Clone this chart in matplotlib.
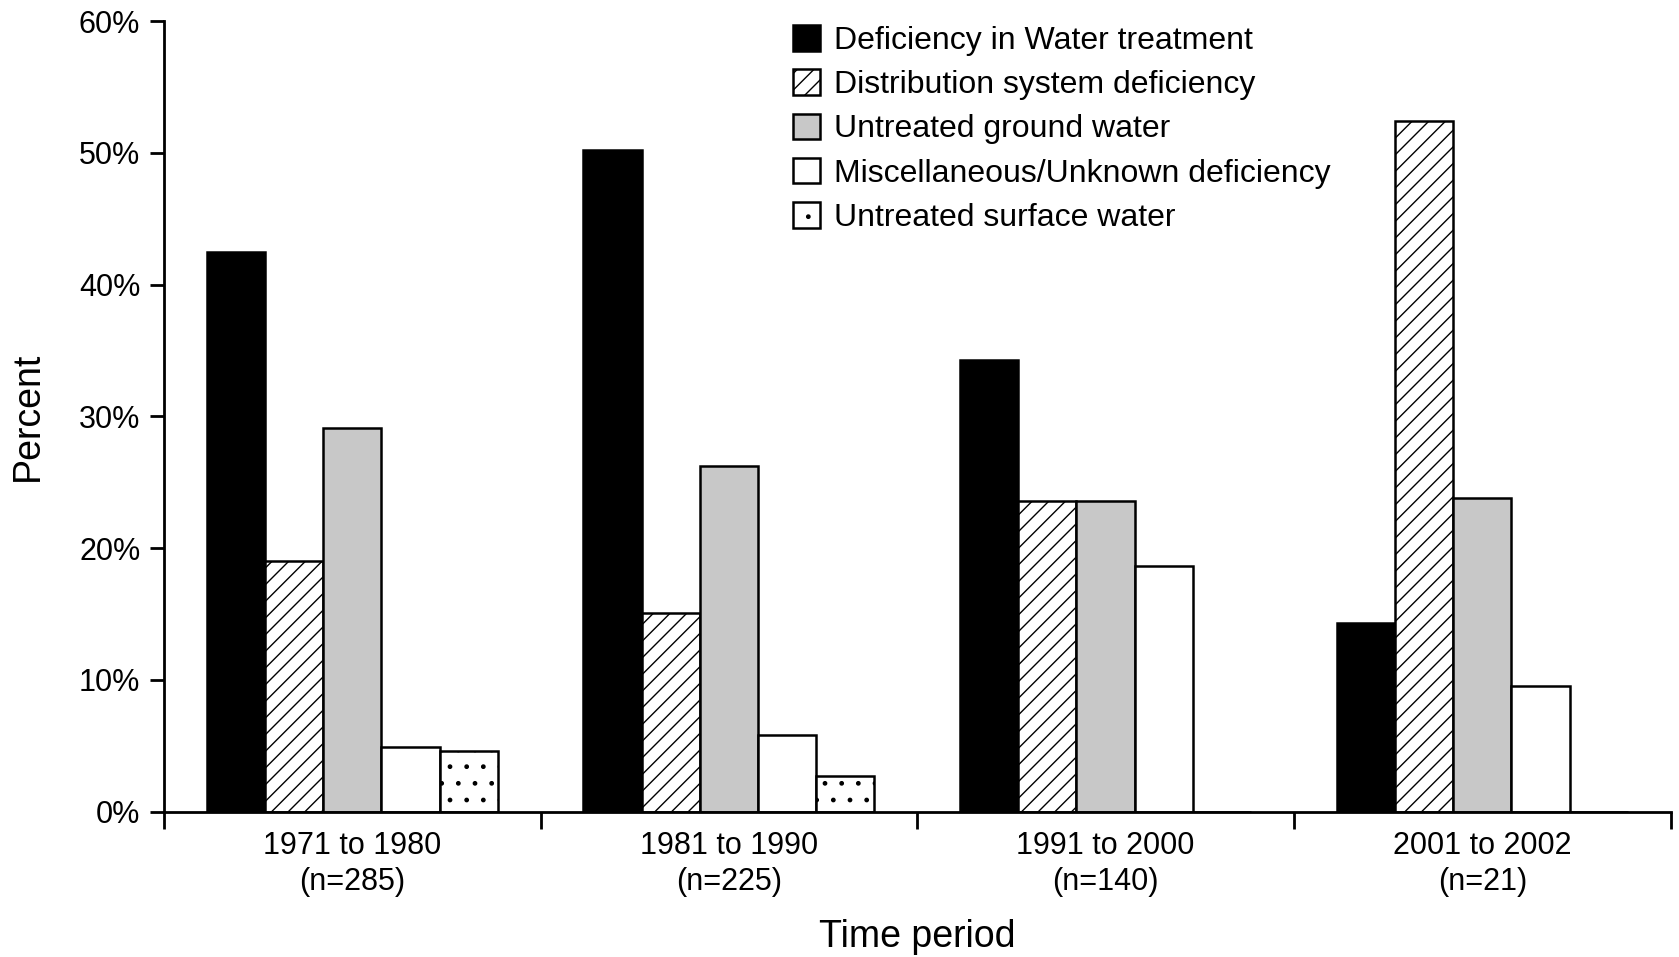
import matplotlib
matplotlib.use("Agg")
import matplotlib.pyplot as plt
import numpy as np

plt.rcParams['font.family'] = ['Liberation Sans', 'DejaVu Sans']
plt.rcParams['hatch.linewidth'] = 1.0

periods = ["1971 to 1980\n(n=285)", "1981 to 1990\n(n=225)",
           "1991 to 2000\n(n=140)", "2001 to 2002\n(n=21)"]

# percent of outbreaks per deficiency type
water_treatment = [42.5, 50.2, 34.3, 14.3]
distribution = [19.0, 15.1, 23.6, 52.4]
ground_water = [29.1, 26.2, 23.6, 23.8]
misc_unknown = [4.9, 5.8, 18.6, 9.5]
surface_water = [4.6, 2.7, 0, 0]

series = [
    ("Deficiency in Water treatment", water_treatment, "black", ""),
    ("Distribution system deficiency", distribution, "white", "//"),
    ("Untreated ground water", ground_water, "#c8c8c8", ""),
    ("Miscellaneous/Unknown deficiency", misc_unknown, "white", ""),
    ("Untreated surface water", surface_water, "white", "."),
]

fig = plt.figure(figsize=(16.79, 9.57), dpi=100)
ax = fig.add_axes([0.0976, 0.152, 0.8974, 0.826])

x = np.arange(len(periods))
w = 0.1545
for i, (name, vals, col, hatch) in enumerate(series):
    ax.bar(x - 2 * w + i * w, vals, width=w, color=col, edgecolor="black",
           linewidth=1.8, hatch=hatch, label=name)

ax.set_xlim(-0.5, 3.5)
ax.set_ylim(0, 60)
ax.set_yticks(range(0, 61, 10))
ax.set_yticklabels([f"{v}%" for v in range(0, 61, 10)], fontsize=22)
ax.set_xticks(x)
ax.set_xticklabels(periods, fontsize=22, linespacing=1.25)
ax.set_xticks(np.arange(-0.5, 3.6, 1), minor=True)
ax.tick_params(axis="x", which="major", length=0, pad=14)
ax.tick_params(axis="x", which="minor", length=12, width=2, direction="out")
ax.tick_params(axis="y", length=10, width=2, direction="out", pad=7)

for s in ["top", "right"]:
    ax.spines[s].set_visible(False)
for s in ["left", "bottom"]:
    ax.spines[s].set_linewidth(2)

ax.set_xlabel("Time period", fontsize=27, labelpad=16)
ax.set_ylabel("Percent", fontsize=27, labelpad=24)

ax.legend(loc="upper left", bbox_to_anchor=(0.4645, 0.987),
          bbox_transform=fig.transFigure, frameon=False, fontsize=23,
          handlelength=0.85, handleheight=0.85, handletextpad=0.45,
          labelspacing=0.42, borderaxespad=0)

fig.savefig("out.png", dpi=100)
